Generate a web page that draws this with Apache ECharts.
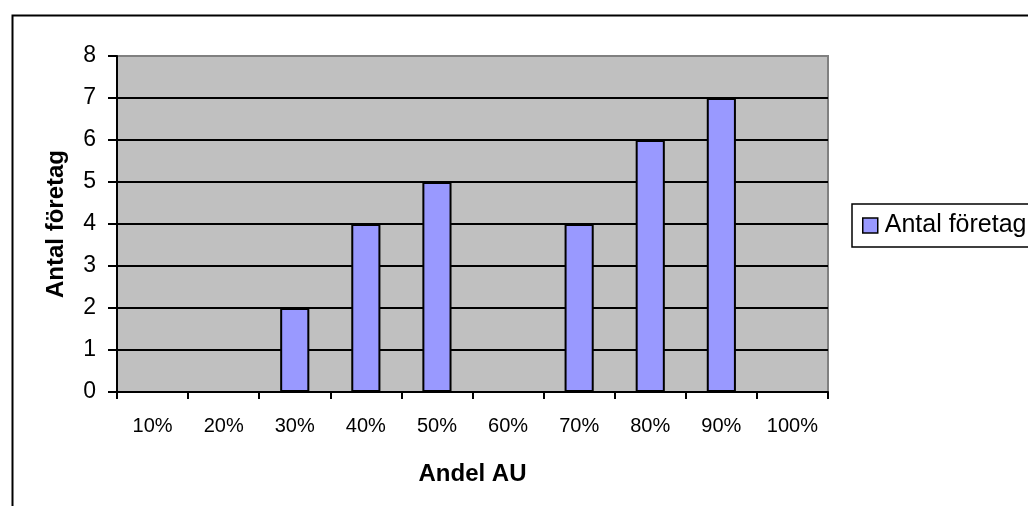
<!DOCTYPE html>
<html>
<head>
<meta charset="utf-8">
<script src="https://cdn.jsdelivr.net/npm/echarts@6/dist/echarts.min.js"></script>
<style>
  html, body { margin: 0; padding: 0; background: #fff; }
  #chart { width: 1028px; height: 506px; }
</style>
</head>
<body>
<div id="chart"></div>
<script>
// Andel AU per kategori och antal företag
const categories = ['10%', '20%', '30%', '40%', '50%', '60%', '70%', '80%', '90%', '100%'];
const antalForetag = [0, 0, 2, 4, 5, 0, 4, 6, 7, 0];
const seriesName = 'Antal företag';
const xTitle = 'Andel AU';
const yTitle = 'Antal företag';

const FONT = 'Arial, "Liberation Sans", sans-serif';

const chart = echarts.init(document.getElementById('chart'), null, { renderer: 'canvas' });

chart.setOption({
  animation: false,
  backgroundColor: '#ffffff',
  textStyle: { fontFamily: FONT },
  graphic: [
    {
      type: 'rect',
      left: 10, top: 13,
      shape: { x: 0, y: 0, width: 1100, height: 600 },
      style: { fill: 'none', stroke: '#000', lineWidth: 2 },
      z: 100
    }
  ],
  grid: {
    left: 117, right: 200, top: 56, bottom: 114,
    show: true,
    backgroundColor: '#C0C0C0',
    borderColor: '#808080',
    borderWidth: 2
  },
  legend: {
    left: 852, top: 204,
    orient: 'vertical',
    padding: [9, 20, 9, 10],
    borderColor: '#000',
    borderWidth: 1.5,
    itemWidth: 15, itemHeight: 15,
    itemGap: 6,
    icon: 'rect',
    itemStyle: { borderColor: '#000', borderWidth: 1.5 },
    textStyle: { fontSize: 25, color: '#000', fontFamily: FONT, padding: [0, 0, 0, 2] },
    data: [seriesName]
  },
  xAxis: {
    type: 'category',
    data: categories,
    name: xTitle,
    nameLocation: 'middle',
    nameGap: 70,
    nameTextStyle: { fontSize: 24, fontWeight: 'bold', color: '#000', fontFamily: FONT },
    axisLine: { lineStyle: { color: '#000', width: 2 } },
    axisTick: { show: true, length: 7, lineStyle: { color: '#000', width: 2 } },
    axisLabel: { fontSize: 20, color: '#000', margin: 24, fontFamily: FONT },
    splitLine: { show: false }
  },
  yAxis: {
    type: 'value',
    min: 0, max: 8, interval: 1,
    name: yTitle,
    nameLocation: 'middle',
    nameGap: 49,
    nameRotate: 90,
    nameTextStyle: { fontSize: 24, fontWeight: 'bold', color: '#000', fontFamily: FONT },
    axisLine: { show: true, lineStyle: { color: '#000', width: 2 } },
    axisTick: { show: true, length: 9, lineStyle: { color: '#000', width: 2 } },
    axisLabel: { fontSize: 23, color: '#000', margin: 21, fontFamily: FONT },
    splitLine: { show: true, showMaxLine: false, lineStyle: { color: '#000', width: 2 } }
  },
  series: [
    {
      name: seriesName,
      type: 'bar',
      data: antalForetag,
      barWidth: '41%',
      itemStyle: { color: '#9999FF', borderColor: '#000', borderWidth: 2 }
    }
  ]
});
</script>
</body>
</html>
